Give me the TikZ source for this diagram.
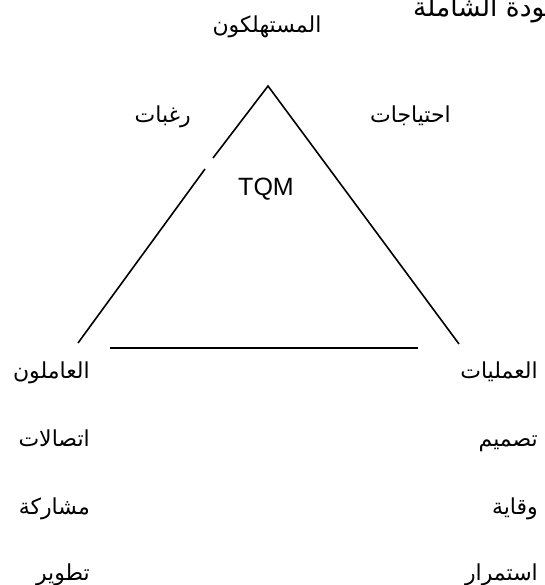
\documentclass[tikz,border=0pt]{standalone}
\usepackage{fontspec}
\setmainfont{Liberation Sans}
\newfontfamily\arabicfont[Script=Arabic]{DejaVu Sans}
\TeXXeTstate=1
\begin{document}
\begin{tikzpicture}[x=1pt,y=-1pt,
  side/.style={line width=1.6pt,line cap=butt},
  artext/.style={inner sep=0pt,font=\arabicfont\fontsize{22}{26}\selectfont},
  latin/.style={inner sep=0pt,font=\fontsize{25}{29}\selectfont}]
\useasboundingbox (0,0) rectangle (544,585);
\clip (0,0) rectangle (544,585);

% triangle corners and the break in the left side
\coordinate (apex) at (268,86);
\coordinate (gapTop) at (213,158);
\coordinate (gapBot) at (205,169);
\coordinate (leftEnd) at (78,343);
\coordinate (rightEnd) at (459,344);
\coordinate (baseL) at (110,348);
\coordinate (baseR) at (418,348);

\draw[side] (leftEnd) -- (gapBot);
\draw[side] (gapTop) -- (apex) -- (rightEnd);
\draw[side] (baseL) -- (baseR);

% heading running off the top edge
\node[artext,font=\arabicfont\fontsize{26.5}{30}\selectfont,anchor=base west] (title) at (413,17) {\beginR الجودة الشاملة\endR};

% corner labels
\node[artext,anchor=base] (consumers) at (267,33) {\beginR المستهلكون\endR};
\node[artext,anchor=base east] (wishes) at (191,123) {\beginR رغبات\endR};
\node[artext,anchor=base east] (needs) at (451,123) {\beginR احتياجات\endR};
\node[latin,anchor=base] (tqm) at (266,196) {TQM};

% employees column
\node[artext,anchor=base east] (workers) at (90,378) {\beginR العاملون\endR};
\node[artext,anchor=base east] (comms) at (90,446) {\beginR اتصالات\endR};
\node[artext,anchor=base east] (share) at (90,514) {\beginR مشاركة\endR};
\node[artext,anchor=base east] (develop) at (90,580) {\beginR تطوير\endR};

% processes column
\node[artext,anchor=base east] (ops) at (538,378) {\beginR العمليات\endR};
\node[artext,anchor=base east] (design) at (538,446) {\beginR تصميم\endR};
\node[artext,anchor=base east] (prevent) at (538,514) {\beginR وقاية\endR};
\node[artext,anchor=base east] (cont) at (538,580) {\beginR استمرار\endR};
\end{tikzpicture}
\end{document}
